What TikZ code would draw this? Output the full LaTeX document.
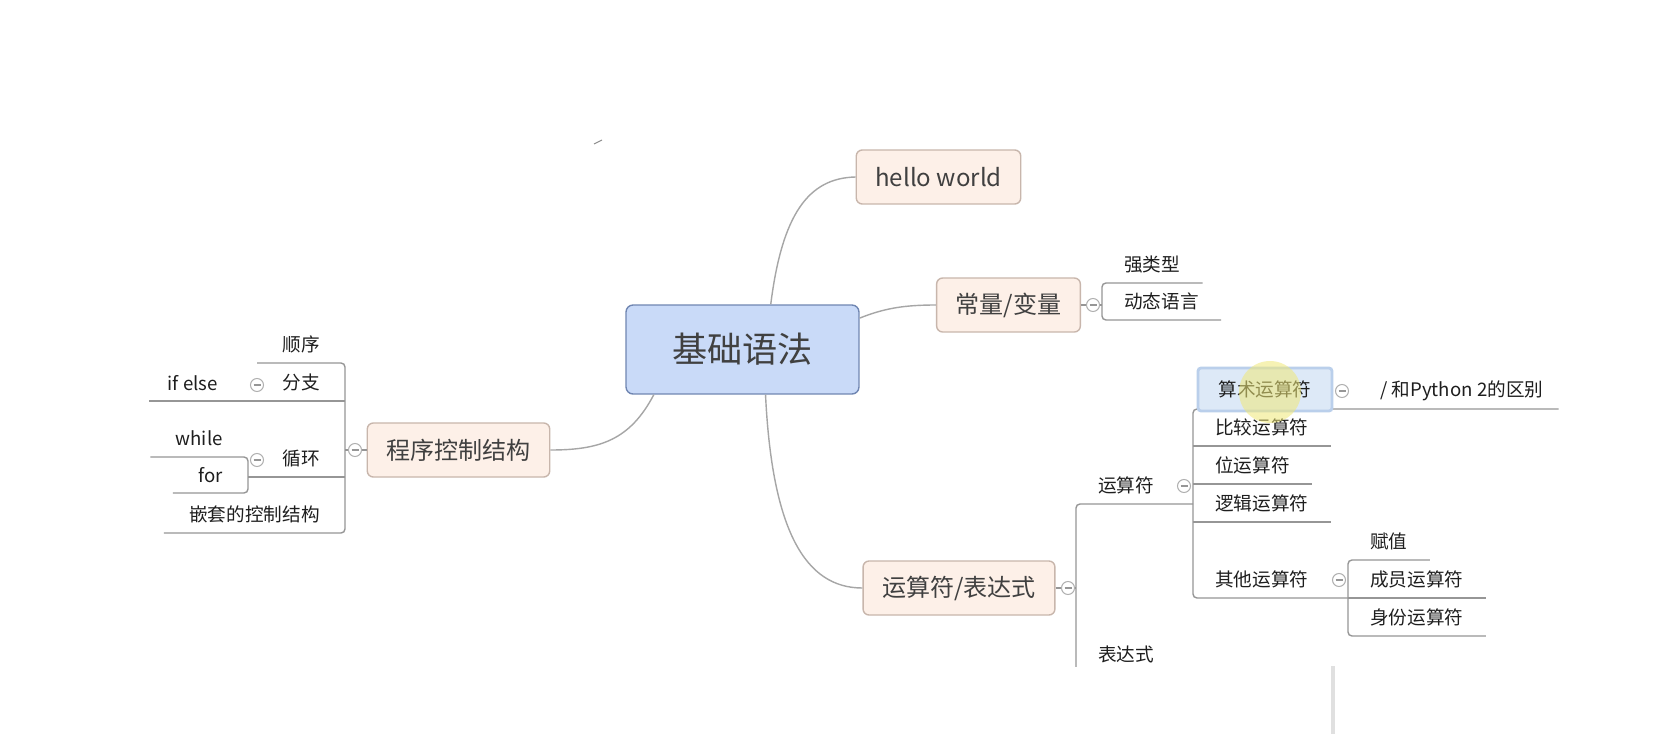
\documentclass[tikz,border=0pt]{standalone}
\usepackage{fontspec}
\setmainfont{Noto Sans CJK SC}
\usepackage{xcolor}
\usetikzlibrary{positioning}
\definecolor{rootfill}{RGB}{201, 218, 248}
\definecolor{rootline}{RGB}{112, 134, 178}
\definecolor{topicfill}{RGB}{253, 240, 232}
\definecolor{topicline}{RGB}{200, 182, 172}
\definecolor{branch}{RGB}{150, 150, 150}
\definecolor{ink}{RGB}{30, 30, 30}
\definecolor{selfill}{RGB}{221, 233, 247}
\definecolor{selline}{RGB}{186, 207, 235}
\definecolor{pointer}{RGB}{240, 232, 120}

\begin{document}
\begin{tikzpicture}[x=0.02cm, y=-0.02cm,
  rootbox/.style={fill=rootfill, draw=rootline, line width=0.8pt, rounded corners=0.14cm, minimum width=4.66cm, minimum height=1.78cm, text=ink!85, font=\fontsize{20}{24}\selectfont},
  topic/.style={fill=topicfill, draw=topicline, line width=0.8pt, rounded corners=0.12cm, minimum height=1.08cm, inner xsep=0.38cm, text=ink!85, font=\fontsize{13.7}{16}\selectfont},
  selbox/.style={fill=selfill, draw=selline, line width=1.6pt, rounded corners=0.06cm, minimum width=2.68cm, minimum height=0.86cm, text=ink, font=\fontsize{10.6}{12}\selectfont},
  rlab/.style={anchor=south west, inner xsep=0.44cm, inner ysep=0pt, minimum height=0.72cm, text=ink, font=\fontsize{10.6}{12}\selectfont},
  llab/.style={rlab, anchor=south east, inner xsep=0.5cm},
  conn/.style={draw=branch!85, line width=0.8pt},
  twig/.style={draw=branch, line width=0.8pt, rounded corners=0.08cm},
  fold/.style={circle, draw=branch!75, fill=white, line width=0.6pt, minimum size=0.26cm, inner sep=0pt,
    path picture={\draw[branch, line width=0.6pt] ([xshift=-0.07cm]path picture bounding box.center) -- ([xshift=0.07cm]path picture bounding box.center);}}]
\fill[white] (0,0) rectangle (1668,734);
\useasboundingbox (0,0) rectangle (1668,734);

% Root
\node[rootbox] (root) at (742.5,349.5) {基础语法};

% Main topics
\node[topic] (hello) at (938.5,177) {hello world};
\node[topic] (var) at (1008.5,305) {常量/变量};
\node[topic] (prog) at (458.5,450) {程序控制结构};
\node[topic] (expr) at (959,588) {运算符/表达式};

% Curved connectors
\draw[conn] (root.58) .. controls (782,215) and (808,178) .. (hello.west);
\draw[conn] (root.15) .. controls (885,308) and (905,305) .. (var.west);
\draw[conn] (root.297) .. controls (772,530) and (805,588) .. (expr.west);
\draw[conn] (root.207) .. controls (630,440) and (600,450) .. (prog.east);

% Control structures
\coordinate (progbr) at (345,450);
\coordinate (loopbr) at (248,477);
\node[llab] (seq) at (345,363) {顺序};
\node[llab] (branchsel) at (345,401) {分支};
\node[llab, inner xsep=0.36cm] (ifelse) at ([xshift=-0.42cm]branchsel.south west) {if else};
\node[llab] (loop) at (345,477) {循环};
\node[llab] (loopwhile) at (248,457) {while};
\node[llab] (loopfor) at (248,493) {for};
\node[llab] (nested) at (345,533) {嵌套的控制结构};
\draw[twig] (prog.west) -- (progbr);
\draw[twig] (seq.south west) -- (seq.south east) -- (nested.south east) -- (nested.south west);
\draw[twig] (branchsel.south east) -- (ifelse.south west);
\draw[twig] (loop.south east) -- (loopbr);
\draw[twig] (loopwhile.south west) -- (loopwhile.south east) -- (loopfor.south east) -- (loopfor.south west);

% Constants and variables
\coordinate (varbr) at (1102,305);
\node[rlab] (strong) at (1102,283) {强类型};
\node[rlab] (dynamic) at (1102,320) {动态语言};
\draw[twig] (var.east) -- (varbr);
\draw[twig] (strong.south east) -- (strong.south west) -- (dynamic.south west) -- (dynamic.south east);

% Operators
\coordinate (exprbr) at (1076,588);
\coordinate (opsbr) at (1193,504);
\coordinate (otherbr) at (1348,598);
\node[rlab] (ops) at (1076,504) {运算符};
\node[rlab, inner xsep=0.3cm] (py2) at (1365,409) {/ 和Python 2的区别};
\node[rlab] (cmp) at (1193,446) {比较运算符};
\node[rlab] (bit) at (1193,484) {位运算符};
\node[rlab] (logic) at (1193,522) {逻辑运算符};
\node[rlab] (other) at (1193,598) {其他运算符};
\node[rlab] (assign) at (1348,560) {赋值};
\node[rlab] (member) at (1348,598) {成员运算符};
\node[rlab] (ident) at (1348,636) {身份运算符};
\draw[twig] (expr.east) -- (exprbr);
\draw[twig] (py2.south east) -- (opsbr |- py2.south) -- (other.south west) -- (otherbr);
\foreach \n in {cmp,bit,logic,member}
  \draw[twig] (\n.south west) -- (\n.south east);
\draw[twig] (assign.south east) -- (assign.south west) -- (ident.south west) -- (ident.south east);
\begin{scope}
  \clip (0,0) rectangle (1668,666);
  \node[rlab] (exprs) at (1076,673) {表达式};
  \draw[twig] (opsbr) -- (ops.south west) -- (exprs.south west) -- (exprs.south east);
\end{scope}

% Selected topic
\node[selbox] (arith) at (1265,389.5) {算术运算符};
\fill[pointer, opacity=0.55] (1270,392) circle[radius=0.62cm];

% Fold markers
\node[fold] (progfold) at (355,450) {};
\node[fold] (branchfold) at (257,385) {};
\node[fold] (loopfold) at (257,460) {};
\node[fold] (varfold) at (1093,305) {};
\node[fold] (exprfold) at (1068,588) {};
\node[fold] (opsfold) at (1184,486) {};
\node[fold] (arithfold) at (1342,391) {};
\node[fold] (otherfold) at (1339,580) {};

% Screen marks
\fill[black!12] (1331,666) rectangle (1335,734);
\draw[black!45, line width=0.6pt] (594,144) -- (602,140);
\end{tikzpicture}
\end{document}
